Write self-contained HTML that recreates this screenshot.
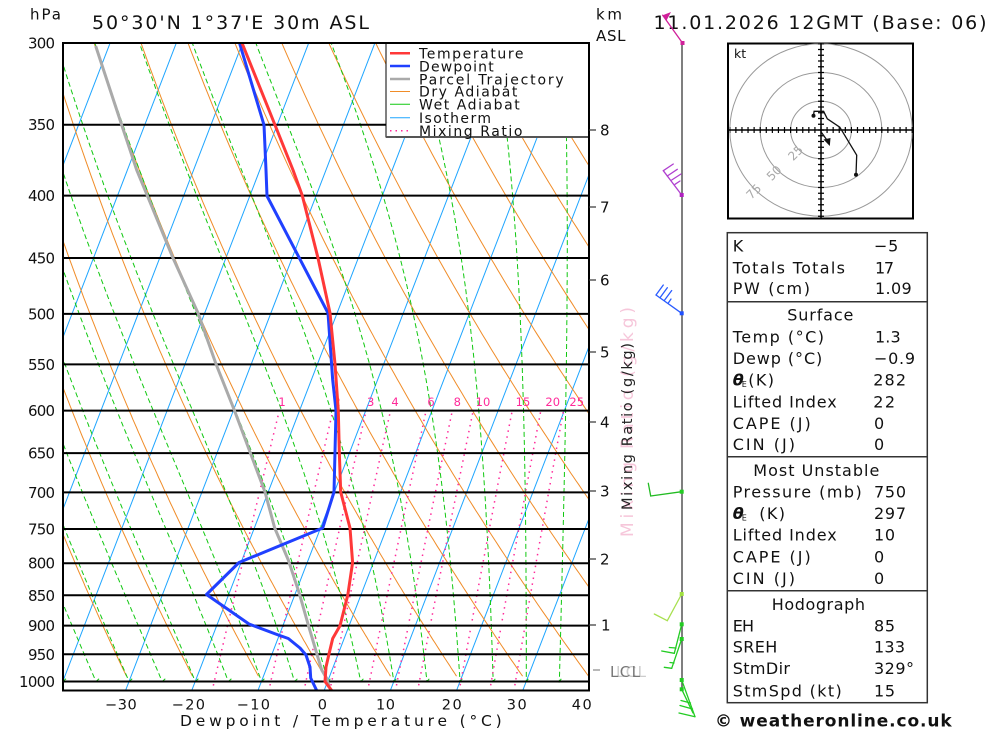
<!DOCTYPE html>
<html><head><meta charset="utf-8">
<style>
html,body{margin:0;padding:0;background:#fff;}
svg{display:block;}
text{font-family:"DejaVu Sans","Liberation Sans",Arial,sans-serif;fill:#111;}
</style></head>
<body>
<svg id="s" width="1000" height="733" viewBox="0 0 1000 733" xmlns="http://www.w3.org/2000/svg">
<defs>
<clipPath id="pc"><rect x="63" y="43" width="526" height="647.5"/></clipPath>
<clipPath id="hc"><rect x="728" y="43.5" width="185" height="175"/></clipPath>
</defs>
<rect x="0" y="0" width="1000" height="733" fill="#fff"/>

<!-- background lines generated by script -->
<g id="bg" clip-path="url(#pc)"></g>

<!-- pressure lines -->
<g stroke="#000" stroke-width="2">
<line x1="63" y1="124.7" x2="589" y2="124.7"/>
<line x1="63" y1="195.6" x2="589" y2="195.6"/>
<line x1="63" y1="258" x2="589" y2="258"/>
<line x1="63" y1="313.9" x2="589" y2="313.9"/>
<line x1="63" y1="364.4" x2="589" y2="364.4"/>
<line x1="63" y1="410.6" x2="589" y2="410.6"/>
<line x1="63" y1="453.1" x2="589" y2="453.1"/>
<line x1="63" y1="492.4" x2="589" y2="492.4"/>
<line x1="63" y1="529" x2="589" y2="529"/>
<line x1="63" y1="563.2" x2="589" y2="563.2"/>
<line x1="63" y1="595.3" x2="589" y2="595.3"/>
<line x1="63" y1="625.6" x2="589" y2="625.6"/>
<line x1="63" y1="654.3" x2="589" y2="654.3"/>
<line x1="63" y1="681.5" x2="589" y2="681.5"/>
</g>

<!-- mixing ratio labels -->
<g font-size="11.5" text-anchor="middle">
<text x="282" y="406" style="fill:#ff2a9a">1</text>
<text x="337" y="406" style="fill:#ff2a9a">2</text>
<text x="370.7" y="406" style="fill:#ff2a9a">3</text>
<text x="395" y="406" style="fill:#ff2a9a">4</text>
<text x="431" y="406" style="fill:#ff2a9a">6</text>
<text x="457.3" y="406" style="fill:#ff2a9a">8</text>
<text x="483" y="406" style="fill:#ff2a9a">10</text>
<text x="523" y="406" style="fill:#ff2a9a">15</text>
<text x="552.7" y="406" style="fill:#ff2a9a">20</text>
<text x="576.7" y="406" style="fill:#ff2a9a">25</text>
</g>

<!-- profiles -->
<g clip-path="url(#pc)" fill="none" stroke-linejoin="round" stroke-linecap="round">
<polyline stroke="#aaaaaa" stroke-width="3" points="329,686 326.7,678.3 321.7,670 316.7,653.3 308.3,625 299.3,593.3 288.3,560 274.7,528 265,492 250,452 234.5,410.6 216,364 198,313 173,258 147.3,195.6 136.7,170 121.7,125 96,47"/>
<polyline stroke="#2040ff" stroke-width="3" points="239.5,43 264,125 266,170 267,196 328,313 332.7,380 336,410.6 335,452 334,492 322.7,528 239,562.5 206.5,594.5 249,624 278.3,635 288.3,638.5 300,648 306,655 310,667 310.7,678 316.7,690.5"/>
<polyline stroke="#ff3838" stroke-width="3" points="242,43 275,125 293,170 302.3,195.6 318,258 330,313 335,364 338.3,410.6 339.3,452 340.7,492 350,528 352.6,562.5 347.8,595 340,625.7 332.7,638.5 329,654 326,667 325,681.5 331.7,690.5"/>
</g>

<!-- legend -->
<rect x="386" y="43" width="203" height="94" fill="#fff" stroke="#000" stroke-width="1"/>
<line x1="386" y1="137" x2="589" y2="137" stroke="#555" stroke-width="2"/>
<g stroke-width="1">
<line x1="390" y1="53.3" x2="410" y2="53.3" stroke="#ff3838" stroke-width="2.5"/>
<line x1="390" y1="66" x2="410" y2="66" stroke="#2040ff" stroke-width="2.5"/>
<line x1="390" y1="79" x2="410" y2="79" stroke="#aaaaaa" stroke-width="2.5"/>
<line x1="390" y1="91.5" x2="410" y2="91.5" stroke="#f08c28"/>
<line x1="390" y1="104.3" x2="410" y2="104.3" stroke="#10c810"/>
<line x1="390" y1="117.7" x2="410" y2="117.7" stroke="#1ea5ff"/>
<line x1="390" y1="130.7" x2="410" y2="130.7" stroke="#ff2a9a" stroke-width="1.5" stroke-dasharray="1.5 4"/>
</g>
<g font-size="14" lengthAdjust="spacing">
<text x="419" y="58.6" textLength="104.5">Temperature</text>
<text x="419" y="71.3" textLength="74.7">Dewpoint</text>
<text x="419" y="84.3" textLength="144.7">Parcel Trajectory</text>
<text x="419" y="96.6" textLength="98.4">Dry Adiabat</text>
<text x="419" y="109.6" textLength="100.7">Wet Adiabat</text>
<text x="419" y="123" textLength="72">Isotherm</text>
<text x="419" y="136" textLength="103.4">Mixing Ratio</text>
</g>

<!-- frame -->
<rect x="63" y="43" width="526" height="647.5" fill="none" stroke="#000" stroke-width="2"/>

<!-- km ticks -->
<g stroke="#333" stroke-width="1.2">
<line x1="589" y1="130" x2="596" y2="130"/>
<line x1="589" y1="207" x2="596" y2="207"/>
<line x1="589" y1="280" x2="596" y2="280"/>
<line x1="589" y1="352" x2="596" y2="352"/>
<line x1="589" y1="422" x2="596" y2="422"/>
<line x1="589" y1="491" x2="596" y2="491"/>
<line x1="589" y1="559" x2="596" y2="559"/>
<line x1="589" y1="625" x2="596" y2="625"/>
<line x1="593" y1="670" x2="600" y2="670" stroke="#888"/>
</g>
<g font-size="15">
<text x="600" y="135.5">8</text>
<text x="600" y="212.5">7</text>
<text x="600" y="285.5">6</text>
<text x="600" y="357.5">5</text>
<text x="600" y="427.5">4</text>
<text x="600" y="496.5">3</text>
<text x="600" y="564.5">2</text>
<text x="601" y="630.5">1</text>
<text x="616" y="677" textLength="30" style="fill:#ccc">LCL</text>
<text x="610" y="677" textLength="30" style="fill:#777">LCL</text>
</g>

<!-- mixing ratio axis label -->
<text transform="translate(633,537) rotate(-90)" font-size="17" textLength="230" lengthAdjust="spacing" style="fill:#f6c6da">Mixing Ratio (g/kg)</text>
<text transform="translate(632,510) rotate(-90)" font-size="14.5" textLength="167" lengthAdjust="spacing" style="fill:#222">Mixing Ratio (g/kg)</text>

<!-- pressure labels -->
<g font-size="15" lengthAdjust="spacing">
<text x="28" y="48.5" textLength="27">300</text>
<text x="28" y="130.2" textLength="27">350</text>
<text x="28" y="201.1" textLength="27">400</text>
<text x="28" y="263.5" textLength="27">450</text>
<text x="28" y="319.4" textLength="27">500</text>
<text x="28" y="369.9" textLength="27">550</text>
<text x="28" y="416.1" textLength="27">600</text>
<text x="28" y="458.6" textLength="27">650</text>
<text x="28" y="497.9" textLength="27">700</text>
<text x="28" y="534.5" textLength="27">750</text>
<text x="28" y="568.7" textLength="27">800</text>
<text x="28" y="600.8" textLength="27">850</text>
<text x="28" y="631.1" textLength="27">900</text>
<text x="28" y="659.8" textLength="27">950</text>
<text x="19" y="687" textLength="36">1000</text>
<text x="30" y="19.5" textLength="31">hPa</text>
<text x="596" y="19.6" textLength="26">km</text>
<text x="596" y="41.2" textLength="29.5">ASL</text>
</g>

<!-- titles -->
<text x="92" y="29" font-size="19" textLength="277" lengthAdjust="spacing">50°30'N 1°37'E 30m ASL</text>
<text x="653.5" y="29" font-size="19" textLength="333" lengthAdjust="spacing">11.01.2026 12GMT (Base: 06)</text>

<!-- bottom axis -->
<g font-size="14.5" lengthAdjust="spacing">
<text x="105" y="709.7" textLength="31.7">−30</text>
<text x="171.7" y="709.7" textLength="33.3">−20</text>
<text x="236.7" y="709.7" textLength="33.3">−10</text>
<text x="317.7" y="709.7" textLength="7.3">0</text>
<text x="376" y="709.7" textLength="19">10</text>
<text x="441.7" y="709.7" textLength="20">20</text>
<text x="506.7" y="709.7" textLength="20">30</text>
<text x="571.7" y="709.7" textLength="20">40</text>
</g>
<text x="180" y="726" font-size="15.5" textLength="321.7" lengthAdjust="spacing">Dewpoint / Temperature (°C)</text>

<!-- wind staff -->
<line x1="682" y1="43" x2="682" y2="690" stroke="#555" stroke-width="1.5"/>
<g fill="none" stroke-width="1.3" stroke-linecap="round">
<g stroke="#d0209a">
<line x1="682.5" y1="43" x2="662.7" y2="15.2"/>
</g>
<polygon points="662.7,15.2 666.5,20.5 671,12" fill="#d0209a"/>
<rect x="680.5" y="41" width="4" height="4" fill="#d0209a"/>
<g stroke="#b040d0">
<line x1="681.7" y1="195" x2="663.3" y2="170.7"/>
<line x1="663.3" y1="170.7" x2="673.3" y2="164"/>
<line x1="667.3" y1="176" x2="677.3" y2="169.3"/>
<line x1="671.7" y1="180" x2="681" y2="174"/>
<line x1="675" y1="184.3" x2="680" y2="181"/>
</g>
<rect x="679.7" y="193" width="4" height="4" fill="#b020c0"/>
<g stroke="#2a5cff">
<line x1="681.7" y1="313.3" x2="656" y2="295"/>
<line x1="656" y1="295" x2="663.3" y2="285"/>
<line x1="660" y1="297.7" x2="667.3" y2="287.7"/>
<line x1="664.3" y1="300.5" x2="671.7" y2="290.5"/>
<line x1="668.3" y1="303" x2="671" y2="299"/>
</g>
<rect x="679.7" y="311.3" width="4" height="4" fill="#2050ff"/>
<g stroke="#22bb22">
<line x1="681.7" y1="491.7" x2="650.7" y2="496"/>
<line x1="650.7" y1="496" x2="648.3" y2="483.3"/>
</g>
<rect x="679.7" y="489.7" width="4" height="4" fill="#22cc22"/>
<g stroke="#a8e050">
<line x1="681.7" y1="594" x2="667.3" y2="620.7"/>
<line x1="667.3" y1="620.7" x2="654.3" y2="614"/>
</g>
<rect x="679.7" y="592" width="4" height="4" fill="#a0e040"/>
<g stroke="#22cc22">
<line x1="681.7" y1="624.3" x2="674.3" y2="653.3"/>
<line x1="674.3" y1="653.3" x2="661.7" y2="651"/>
<line x1="676" y1="648" x2="669.3" y2="647.5"/>
<line x1="681.7" y1="639" x2="671.7" y2="668.3"/>
<line x1="671.7" y1="668.3" x2="664.3" y2="667.3"/>
<line x1="674" y1="663" x2="670" y2="662.5"/>
<line x1="681.7" y1="680" x2="695" y2="716.7"/>
<line x1="695" y1="716.7" x2="679" y2="713"/>
<line x1="692.5" y1="709" x2="680" y2="705.5"/>
<line x1="690.5" y1="703" x2="681" y2="700.5"/>
<line x1="681.7" y1="689.3" x2="693" y2="713"/>
</g>
<rect x="679.7" y="622.3" width="4" height="4" fill="#22cc22"/>
<rect x="679.7" y="637" width="4" height="4" fill="#22cc22"/>
<rect x="679.7" y="678" width="4" height="4" fill="#22cc22"/>
<rect x="679.7" y="687.3" width="4" height="4" fill="#22cc22"/>
</g>

<!-- hodograph -->
<rect x="728" y="43.5" width="185" height="175" fill="#fff" stroke="#000" stroke-width="2"/>
<g clip-path="url(#hc)" fill="none" stroke="#999" stroke-width="1">
<ellipse cx="821" cy="130" rx="30.4" ry="28.7"/>
<ellipse cx="821" cy="130" rx="60.8" ry="57.5"/>
<ellipse cx="821" cy="130" rx="91.2" ry="86.2"/>
</g>
<g stroke="#000">
<line x1="728" y1="130" x2="913" y2="130" stroke-width="1.5"/>
<line x1="821" y1="43.5" x2="821" y2="218.5" stroke-width="1.5"/>
<line x1="729.8" y1="130" x2="913" y2="130" stroke-width="6" stroke-dasharray="1.2 4.88" stroke-dashoffset="0.6"/>
<line x1="821" y1="43.75" x2="821" y2="218" stroke-width="6" stroke-dasharray="1.2 4.55" stroke-dashoffset="0.6"/>
</g>
<text x="734" y="58" font-size="12.5">kt</text>
<g font-size="12" text-anchor="middle">
<text transform="translate(798.5,156) rotate(-45)" style="fill:#aaa">25</text>
<text transform="translate(777,176) rotate(-45)" style="fill:#aaa">50</text>
<text transform="translate(756.7,194.5) rotate(-45)" style="fill:#aaa">75</text>
</g>
<polyline fill="none" stroke="#111" stroke-width="1.3" points="813.5,115.7 814.1,111.3 823.6,111.3 827.3,118.8 839.8,127.2 856.7,155.2 856,174.8"/>
<circle cx="813.5" cy="115.7" r="2" fill="#111"/>
<circle cx="856" cy="174.8" r="2" fill="#111"/>
<line x1="820.9" y1="131.6" x2="829" y2="143" stroke="#111" stroke-width="1.3"/>
<polygon points="823.5,139.5 830.5,138 829.8,146" fill="#111"/>

<!-- table -->
<g fill="none" stroke="#333" stroke-width="1.5">
<rect x="727.3" y="232.7" width="200" height="470"/>
<line x1="727.3" y1="301.7" x2="927.3" y2="301.7"/>
<line x1="727.3" y1="456.7" x2="927.3" y2="456.7"/>
<line x1="727.3" y1="590.7" x2="927.3" y2="590.7"/>
</g>
<g font-size="16" lengthAdjust="spacing">
<text x="732.7" y="251.7" textLength="10">K</text>
<text x="874" y="251.7" textLength="24.3">−5</text>
<text x="732.7" y="273.3" textLength="112.3">Totals Totals</text>
<text x="875" y="273.3" textLength="19">17</text>
<text x="732.7" y="294" textLength="77.3">PW (cm)</text>
<text x="875" y="294" textLength="36.7">1.09</text>
<text x="787.3" y="320.7" textLength="66">Surface</text>
<text x="732.7" y="342.3" textLength="91.3">Temp (°C)</text>
<text x="875" y="342.3" textLength="25.7">1.3</text>
<text x="732.7" y="364" textLength="89.6">Dewp (°C)</text>
<text x="874" y="364" textLength="41">−0.9</text>
<text x="732.7" y="385.7" font-weight="bold" font-style="italic">θ</text>
<text x="741.7" y="387" font-size="8">E</text>
<text x="748.3" y="385.7" textLength="25.7">(K)</text>
<text x="873.3" y="385.7" textLength="32.7">282</text>
<text x="732.7" y="407.3" textLength="104">Lifted Index</text>
<text x="873.3" y="407.3" textLength="21.7">22</text>
<text x="732.7" y="429" textLength="78">CAPE (J)</text>
<text x="874" y="429" textLength="9.3">0</text>
<text x="732.7" y="450" textLength="62.3">CIN (J)</text>
<text x="874" y="450" textLength="9.3">0</text>
<text x="753.3" y="476" textLength="126">Most Unstable</text>
<text x="732.7" y="497.7" textLength="129">Pressure (mb)</text>
<text x="874" y="497.7" textLength="32">750</text>
<text x="732.7" y="519" font-weight="bold" font-style="italic">θ</text>
<text x="741.7" y="520.3" font-size="8">E</text>
<text x="759.3" y="519" textLength="25.7">(K)</text>
<text x="874" y="519" textLength="32">297</text>
<text x="732.7" y="540.7" textLength="104">Lifted Index</text>
<text x="874" y="540.7" textLength="21">10</text>
<text x="732.7" y="562.3" textLength="78">CAPE (J)</text>
<text x="874" y="562.3" textLength="9.3">0</text>
<text x="732.7" y="584" textLength="62.3">CIN (J)</text>
<text x="874" y="584" textLength="9.3">0</text>
<text x="771.7" y="610" textLength="93.3">Hodograph</text>
<text x="732.7" y="631.7" textLength="21.3">EH</text>
<text x="874" y="631.7" textLength="21">85</text>
<text x="732.7" y="652.7" textLength="44.6">SREH</text>
<text x="874" y="652.7" textLength="31">133</text>
<text x="732.7" y="674" textLength="57.3">StmDir</text>
<text x="874" y="674" textLength="40">329°</text>
<text x="732.7" y="696.7" textLength="109">StmSpd (kt)</text>
<text x="874" y="696.7" textLength="21">15</text>
</g>

<!-- copyright -->
<text x="715" y="726.7" font-size="17" font-weight="bold" textLength="236.7" lengthAdjust="spacing">© weatheronline.co.uk</text>
</svg>
<script>
(function(){
var NS="http://www.w3.org/2000/svg";
function Y(p){return 681.5+530.3*Math.log(p/1000);}
function X(T,p){return 324+6.62*T+0.385*(691-Y(p));}
var g=document.getElementById('bg');
function pl(pts,stroke,w,dash){
  var e=document.createElementNS(NS,'polyline');
  var s=[];for(var i=0;i<pts.length;i++){s.push(pts[i][0].toFixed(1)+','+pts[i][1].toFixed(1));}
  e.setAttribute('points',s.join(' '));
  e.setAttribute('fill','none');e.setAttribute('stroke',stroke);e.setAttribute('stroke-width',w);
  if(dash)e.setAttribute('stroke-dasharray',dash);
  g.appendChild(e);
}
var T,p,pts,i;
for(T=-130;T<=40;T+=10){pl([[X(T,1040),Y(1040)],[X(T,290),Y(290)]],'#1ea5ff',1);}
for(var T0=-50;T0<=150;T0+=10){
  var th=T0+273.15;pts=[];
  for(p=990;p>=295;p-=5){var Tc=th*Math.pow(p/1000,0.2857)-273.15;pts.push([X(Tc,p),Y(p)]);}
  pl(pts,'#f08c28',1);
}
function es(Tc){return 6.112*Math.exp(17.67*Tc/(Tc+243.5));}
function dTdp(TK,p){
  var Tc=TK-273.15,e=es(Tc),rs=0.622*e/(p-e);
  var num=287.04*TK+2.501e6*rs;
  var den=1005.7+(2.501e6*2.501e6*rs*0.622)/(287.04*TK*TK);
  return num/den/p;
}
for(var W0=-45;W0<=35;W0+=5){
  var TK=W0+273.15;p=1000;pts=[];
  var d0=dTdp(TK,p);
  pts.push([X(TK+5*d0-273.15,995),Y(995)]);
  pts.push([X(W0,1000),Y(1000)]);
  while(p>296){
    var h=-2;var k1=dTdp(TK,p);var k2=dTdp(TK+h*k1/2,p+h/2);
    TK+=h*k2;p+=h;pts.push([X(TK-273.15,p),Y(p)]);
  }
  pl(pts,'#10c810',1,'5 3');
}
var ws=[1,2,3,4,6,8,10,15,20,25];
for(i=0;i<ws.length;i++){
  var w=ws[i];pts=[];
  for(p=1030;p>=600;p-=10){var e=p*w/(622+w);var l=Math.log(e/6.112);var Td=243.5*l/(17.67-l);pts.push([X(Td,p),Y(p)]);}
  pl(pts,'#ff2a9a',1.5,'1.5 4.5');
}
})();
</script>
</body></html>
